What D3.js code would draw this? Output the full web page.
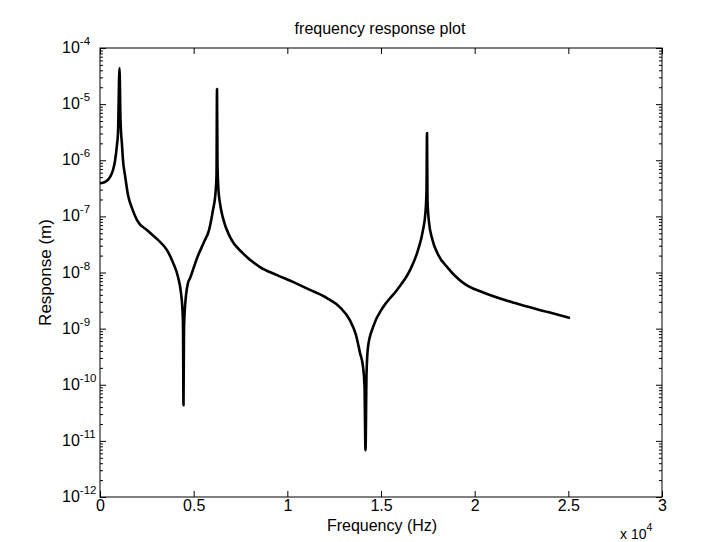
<!DOCTYPE html>
<html>
<head>
<meta charset="utf-8">
<script src="https://cdn.jsdelivr.net/npm/d3@7"></script>
<style>
  body { margin: 0; background: #fff; }
  text { font-family: "Liberation Sans", Arial, sans-serif; fill: #000; }
</style>
</head>
<body>
<div id="chart"></div>
<script>
// values
const freqHz = [0, 267, 534, 694, 801, 907, 961, 1041, 1094, 1174, 1228, 1335, 1495, 1708, 1975, 2562, 3096, 3576, 3897, 4164,
  4324, 4404, 4431, 4457, 4484, 4537, 4697, 4804, 5178, 5552, 5819, 6031, 6165, 6219, 6246, 6272, 6326, 6406, 6566, 6940,
  7633, 8541, 9448, 10302, 11210, 12117, 12811, 13345, 13665, 13879, 14039, 14119, 14173, 14226, 14306, 14573, 15107, 15854, 16548, 16975,
  17242, 17375, 17429, 17456, 17482, 17562, 17722, 18043, 18577, 19484, 20392, 22153, 23915, 25089];
const responseM = [3.9e-7, 4.1e-7, 5.0e-7, 6.7e-7, 9.7e-7, 1.9e-6, 3.1e-6, 4.4e-5, 5.2e-6, 1.9e-6, 1.0e-6, 5.4e-7, 2.4e-7, 1.4e-7, 8.6e-8, 5.5e-8, 3.8e-8, 2.5e-8, 1.5e-8, 8.3e-9,
  4.3e-9, 2.1e-9, 1.15e-9, 4.3e-11, 9.4e-10, 2.4e-9, 6.5e-9, 7.9e-9, 1.8e-8, 3.5e-8, 5.7e-8, 1.3e-7, 2.6e-7, 5.4e-7, 1.86e-5, 8.2e-7, 2.9e-7, 1.7e-7, 9.3e-8, 4.3e-8,
  2.2e-8, 1.25e-8, 9.0e-9, 6.8e-9, 4.9e-9, 3.5e-9, 2.4e-9, 1.4e-9, 7.7e-10, 3.7e-10, 2.1e-10, 9.8e-11, 6.8e-12, 1.5e-10, 4.7e-10, 1.06e-9, 2.4e-9, 4.9e-9, 1.1e-8, 2.5e-8,
  5.7e-8, 1.2e-7, 2.9e-7, 3.05e-6, 1.95e-7, 7.9e-8, 4.1e-8, 2.1e-8, 1.2e-8, 6.2e-9, 4.5e-9, 2.85e-9, 1.97e-9, 1.54e-9];

const xTicks = [0, 5000, 10000, 15000, 20000, 25000, 30000];
const xTickLabels = ['0', '0.5', '1', '1.5', '2', '2.5', '3'];
const yExponents = [-12, -11, -10, -9, -8, -7, -6, -5, -4];

const width = 714;
const height = 542;
const margin = {top: 48, left: 100, bottom: 45, right: 52};

const x = d3.scaleLinear()
    .domain([0, 30000])
    .range([margin.left, width - margin.right]);

const y = d3.scaleLog()
    .domain([1e-12, 1e-4])
    .range([height - margin.bottom, margin.top]);

const svg = d3.select('#chart').append('svg')
    .attr('width', width).attr('height', height)
    .style('background', '#fff');

// minor log ticks 2..9 in each decade
let minor = [];
for (let e of yExponents.slice(0, -1)) {
  for (let k = 2; k <= 9; k++) minor.push(k * Math.pow(10, e));
}
const majorY = yExponents.map(e => Math.pow(10, e));

const axisStyle = g => g
    .call(g => g.select('.domain').remove())
    .call(g => g.selectAll('line').attr('stroke', '#000'));

// bottom / top x ticks (inward)
svg.append('g')
    .attr('transform', `translate(0, ${y(1e-12)})`)
    .call(d3.axisBottom(x).tickValues(xTicks).tickSize(-6).tickPadding(3)
        .tickFormat((d, i) => xTickLabels[i]))
    .call(axisStyle)
    .call(g => g.selectAll('text').attr('font-size', 16).attr('fill', '#000'));

svg.append('g')
    .attr('transform', `translate(0, ${y(1e-4)})`)
    .call(d3.axisTop(x).tickValues(xTicks).tickSize(-6).tickFormat(''))
    .call(axisStyle);

// left / right y ticks (inward)
svg.append('g')
    .attr('transform', `translate(${x(0)}, 0)`)
    .call(d3.axisLeft(y).tickValues(majorY).tickSize(-6).tickFormat(''))
    .call(axisStyle);
svg.append('g')
    .attr('transform', `translate(${x(0)}, 0)`)
    .call(d3.axisLeft(y).tickValues(minor).tickSize(-3).tickFormat(''))
    .call(axisStyle);
svg.append('g')
    .attr('transform', `translate(${x(30000)}, 0)`)
    .call(d3.axisRight(y).tickValues(majorY).tickSize(-6).tickFormat(''))
    .call(axisStyle);
svg.append('g')
    .attr('transform', `translate(${x(30000)}, 0)`)
    .call(d3.axisRight(y).tickValues(minor).tickSize(-3).tickFormat(''))
    .call(axisStyle);

// y tick labels 10^n
const yl = svg.append('g').selectAll('text').data(yExponents).enter().append('text')
    .attr('x', 62)
    .attr('y', d => y(Math.pow(10, d)) + 5)
    .attr('font-size', 16);
yl.append('tspan').text('10');
yl.append('tspan').attr('dy', -8).attr('font-size', 11.5).text(d => '-' + Math.abs(d));

// frame
svg.append('rect')
    .attr('x', x(0)).attr('y', y(1e-4))
    .attr('width', x(30000) - x(0)).attr('height', y(1e-12) - y(1e-4))
    .attr('fill', 'none').attr('stroke', '#000').attr('stroke-width', 1);

// curve
const data = freqHz.map((f, i) => [f, responseM[i]]);
svg.append('path')
    .datum(data)
    .attr('fill', 'none')
    .attr('stroke', '#000')
    .attr('stroke-width', 2.6)
    .attr('stroke-linejoin', 'round')
    .attr('d', d3.line().curve(d3.curveMonotoneX).x(d => x(d[0])).y(d => y(d[1])));

// titles
svg.append('text')
    .attr('x', 380).attr('y', 34)
    .attr('text-anchor', 'middle').attr('font-size', 16)
    .text('frequency response plot');

svg.append('text')
    .attr('x', 382).attr('y', 531)
    .attr('text-anchor', 'middle').attr('font-size', 16)
    .text('Frequency (Hz)');

svg.append('text')
    .attr('transform', `translate(51, ${(y(1e-4) + y(1e-12)) / 2}) rotate(-90)`)
    .attr('text-anchor', 'middle').attr('font-size', 17)
    .text('Response (m)');

const ex = svg.append('text')
    .attr('x', 620).attr('y', 539)
    .attr('font-size', 14);
ex.append('tspan').text('x 10');
ex.append('tspan').attr('dy', -8).attr('font-size', 10.5).text('4');
</script>
</body>
</html>
